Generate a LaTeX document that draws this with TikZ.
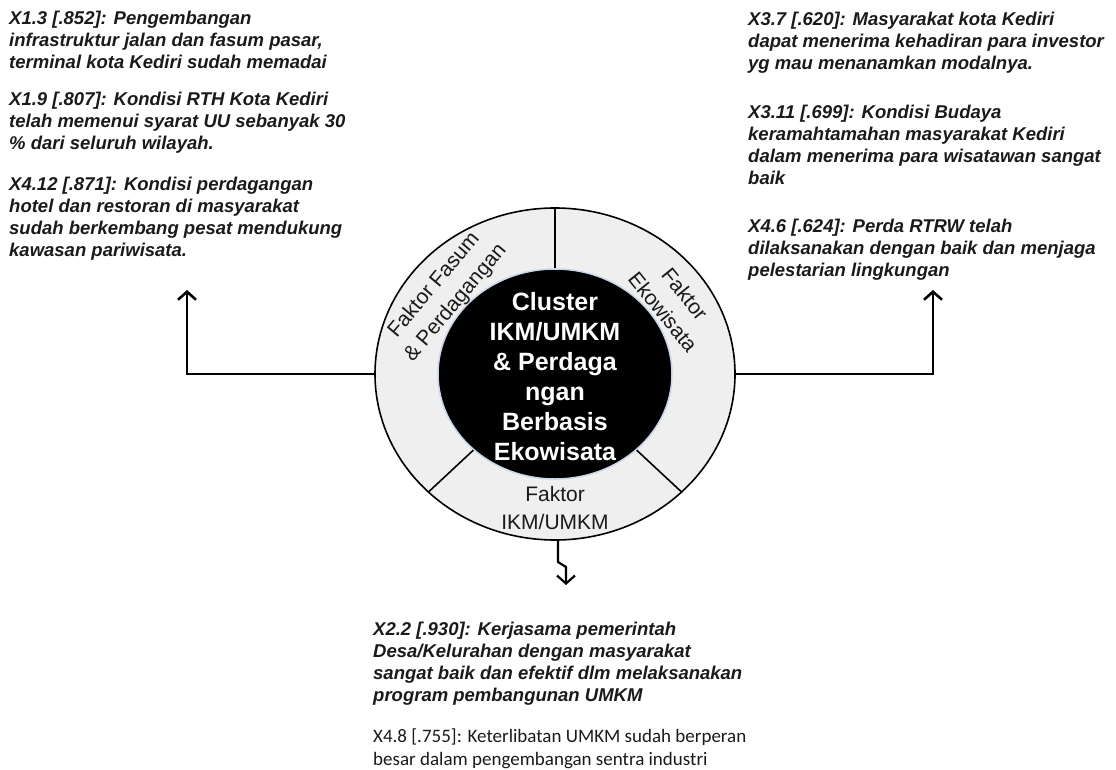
\documentclass[tikz,border=0pt]{standalone}
\usepackage{fontspec}
\setmainfont{Liberation Sans}
\newfontfamily\carlito{Carlito}
\usetikzlibrary{arrows.meta,shapes.geometric}
\definecolor{ringGray}{HTML}{EFEFEF}
\definecolor{coreGlow}{HTML}{C9D6E8}
\definecolor{inkDark}{HTML}{1A1A1A}
\tikzset{
  clu ring/.style={ellipse, draw=black, fill=ringGray, line width=1.6pt, minimum width=360pt, minimum height=332pt, inner sep=0pt},
  clu core/.style={ellipse, draw=coreGlow, fill=black, line width=1.5pt, minimum width=234pt, minimum height=210pt, inner sep=0pt},
  clu core text/.style={font=\fontsize{25}{30}\selectfont\bfseries, text=white, align=center, inner sep=0pt},
  clu divider/.style={draw=black, line width=1.6pt},
  clu factor/.style={font=\fontsize{21}{28}\selectfont, text=inkDark, align=center, inner sep=0pt},
  clu link/.style={draw=black, line width=2.6pt, -{Straight Barb[length=8pt,width=18pt]}},
  % multi-line notes: base anchor sits on the last line
  clu note/.style={font=\fontsize{18.5}{22}\selectfont\bfseries\itshape, text=inkDark, align=left, anchor=base west, inner sep=0pt},
  clu plain/.style={font=\carlito\fontsize{19}{22.5}\selectfont, text=inkDark, align=left, anchor=base west, inner sep=0pt},
}

\begin{document}
\begin{tikzpicture}[x=1pt,y=-1pt]
  \useasboundingbox (0,0) rectangle (1116,770);
  % cluster ring and core
  \node[clu ring] (ring) at (555,374) {};
  \node[clu core] (core) at (555,374) {};
  \node[clu core text] (corelabel) at (555,377) {Cluster\\ IKM/UMKM\\ \& Perdaga\\ ngan\\ Berbasis\\ Ekowisata};
  % ring segments
  \draw[clu divider] (core.90) -- (ring.90);
  \draw[clu divider] (core.-43) -- (ring.-43);
  \draw[clu divider] (core.-137) -- (ring.-137);
  \node[clu factor, rotate=50] (fasum) at (445,294) {Faktor Fasum\\ \& Perdagangan};
  \node[clu factor, rotate=-51] (ekowisata) at (674,303) {Faktor\\ Ekowisata};
  \node[clu factor] (ikm) at (555,508) {Faktor\\ IKM/UMKM};
  % links to the indicator notes
  \coordinate (fasumtip) at (187,290);
  \coordinate (ekotip) at (933,290);
  \coordinate (ikmbend) at (558,562);
  \coordinate (ikmstep) at (566,567);
  \coordinate (ikmtip) at (566,585);
  \draw[clu link] (ring.west) -| (fasumtip);
  \draw[clu link] (ring.east) -| (ekotip);
  \draw[clu link, line width=2.2pt] (ring.south -| ikmbend) -- (ikmbend) -- (ikmstep) -- (ikmtip);
  % notes, left
  \node[clu note] (fasumA) at (9,68.5) {X1.3 [.852]: Pengembangan\\ infrastruktur jalan dan fasum pasar,\\ terminal kota Kediri sudah memadai};
  \node[clu note] (fasumB) at (9,149.5) {X1.9 [.807]: Kondisi RTH Kota Kediri\\ telah memenui syarat UU sebanyak 30\\ \% dari seluruh wilayah.};
  \node[clu note] (fasumC) at (9,256.5) {X4.12 [.871]: Kondisi perdagangan\\ hotel dan restoran di masyarakat\\ sudah berkembang pesat mendukung\\ kawasan pariwisata.};
  % notes, right
  \node[clu note] (ekoA) at (748,69.5) {X3.7 [.620]: Masyarakat kota Kediri\\ dapat menerima kehadiran para investor\\ yg mau menanamkan modalnya.};
  \node[clu note] (ekoB) at (748,184.5) {X3.11 [.699]: Kondisi Budaya\\ keramahtamahan masyarakat Kediri\\ dalam menerima para wisatawan sangat\\ baik};
  \node[clu note] (ekoC) at (748,276.5) {X4.6 [.624]: Perda RTRW telah\\ dilaksanakan dengan baik dan menjaga\\ pelestarian lingkungan};
  % notes, bottom
  \node[clu note] (ikmA) at (373,701.5) {X2.2 [.930]: Kerjasama pemerintah\\ Desa/Kelurahan dengan masyarakat\\ sangat baik dan efektif dlm melaksanakan\\ program pembangunan UMKM};
  \node[clu plain] (ikmB) at (373,765) {X4.8 [.755]: Keterlibatan UMKM sudah berperan\\ besar dalam pengembangan sentra industri};
\end{tikzpicture}
\end{document}
